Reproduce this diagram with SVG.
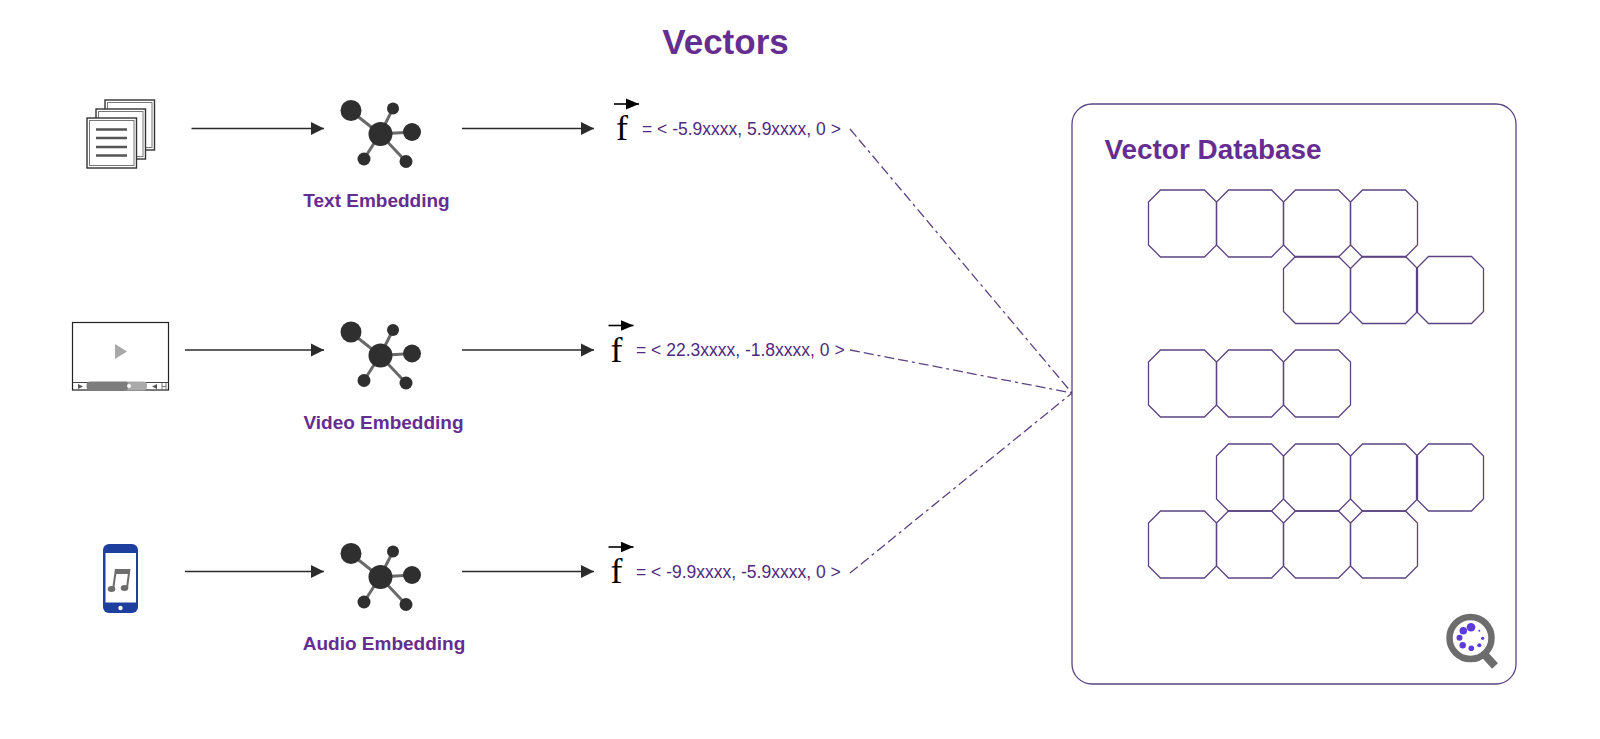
<svg xmlns="http://www.w3.org/2000/svg" width="1600" height="739" viewBox="0 0 1600 739">
<style>
text{font-family:"Liberation Sans",Arial,sans-serif}
.title{font-size:35px;font-weight:700;fill:#662d91;text-anchor:middle}
.db{font-size:27.9px;font-weight:700;fill:#662d91}
.lab{font-size:19px;font-weight:700;fill:#662d91;text-anchor:middle}
.vec{font-size:17.5px;fill:#4f2a80}
.f{font-family:"Liberation Serif",serif;font-size:36px;fill:#000}
.ln{stroke:#2b2b2b;stroke-width:1.6;fill:none}
.dash{stroke:#5b4382;stroke-width:1.3;fill:none;stroke-dasharray:10 4 10 4 3 4}
.oct{fill:none;stroke:#5b4382;stroke-width:1.3}
.hub{fill:#2f2f2f}
.sp{stroke:#6a6a6a;stroke-width:3}
</style>
<defs>
<marker id="ah" markerUnits="userSpaceOnUse" markerWidth="14" markerHeight="14" refX="13" refY="7" orient="auto"><path d="M0,0.5 L13,7 L0,13.5 Z" fill="#2b2b2b"/></marker>
<marker id="fa" markerUnits="userSpaceOnUse" markerWidth="14" markerHeight="12" refX="13" refY="6" orient="auto"><path d="M0,0.500 L13,6 L0,11.500 Z" fill="#000"/></marker>
<path id="o" class="oct" d="M12,0 H55 L67,12 V55 L55,67 H12 L0,55 V12 Z"/>
<path id="o1" class="oct" d="M12,0 H56 L68,12 V55 L56,67 H12 L0,55 V12 Z"/>
<g id="net">
<path class="sp" d="M380,134 L351,111 M380,134 L393,108.500 M380,134 L412,132 M380,134 L364,159 M380,134 L406,161.500"/>
<circle class="hub" cx="380.500" cy="134" r="12"/>
<circle class="hub" cx="351" cy="110.500" r="10.500"/>
<circle class="hub" cx="393" cy="108.500" r="6"/>
<circle class="hub" cx="412" cy="132" r="9"/>
<circle class="hub" cx="364" cy="159" r="6.500"/>
<circle class="hub" cx="406" cy="161.500" r="6.500"/>
</g>
<g id="fv">
<path d="M614,104 H639" stroke="#000" stroke-width="1.600" fill="none" marker-end="url(#fa)"/>
<text class="f" x="616" y="140">f</text>
</g>
</defs>
<rect width="1600" height="739" fill="#fff"/>
<text class="title" x="725.500" y="54">Vectors</text>

<g id="connectors">
<path class="ln" d="M191.500,128.500 H324" marker-end="url(#ah)"/>
<path class="ln" d="M462,128.500 H594" marker-end="url(#ah)"/>
<path class="ln" d="M185,350 H324" marker-end="url(#ah)"/>
<path class="ln" d="M462,350 H594" marker-end="url(#ah)"/>
<path class="ln" d="M185,571.500 H324" marker-end="url(#ah)"/>
<path class="ln" d="M462,571.500 H594" marker-end="url(#ah)"/>
<path class="dash" d="M850,129 L1072,393"/>
<path class="dash" d="M850,350 L1072,393"/>
<path class="dash" d="M850,573 L1072,393"/>
</g>

<g id="text-source">
<rect x="105" y="100" width="49.500" height="50" fill="#fff" stroke="#333" stroke-width="1.400"/>
<rect x="107.500" y="102.500" width="44.500" height="45" fill="#fff" stroke="#777" stroke-width="1"/>
<rect x="96" y="109" width="49.500" height="50" fill="#fff" stroke="#333" stroke-width="1.400"/>
<rect x="98.500" y="111.500" width="44.500" height="45" fill="#fff" stroke="#777" stroke-width="1"/>
<rect x="87" y="118" width="49.500" height="50" fill="#fff" stroke="#333" stroke-width="1.400"/>
<rect x="89.500" y="120.500" width="44.500" height="45" fill="#fff" stroke="#777" stroke-width="1"/>
<path d="M96,129.500 H127 M96,138 H127 M96,147 H127 M96,155.500 H127" stroke="#555" stroke-width="2.400"/>
</g>

<g id="video-source">
<rect x="72.500" y="322.500" width="96" height="67.500" fill="#fff" stroke="#222" stroke-width="1.200"/>
<path d="M72.500,382.500 H168.500" stroke="#444" stroke-width="1"/>
<rect x="122" y="381.500" width="25" height="9" rx="4" fill="#aaa"/>
<rect x="86.500" y="381.500" width="42" height="9" rx="4" fill="#7d7d7d"/>
<circle cx="129" cy="386" r="2" fill="#fff"/>
<path d="M115,344 L127,351.500 L115,359 Z" fill="#a8a8a8"/>
<path d="M78,384 L83,386.500 L78,389 Z M152,386.500 L157,384 V389 Z" fill="#555"/>
<path d="M162,383 V390 M166,383 V390 M162,386.500 H166" stroke="#777" stroke-width="1"/>
</g>

<g id="audio-source">
<rect x="103" y="544" width="35" height="69" rx="6" fill="#1f3f9e"/>
<rect x="105.500" y="553" width="30.500" height="49.500" fill="#fff"/>
<circle cx="120.500" cy="608" r="2.200" fill="#fff"/>
<path d="M116,569 L113,590 M129.500,569 L127,588" stroke="#6d6d6d" stroke-width="2" fill="none"/>
<path d="M115.500,569 H130 V574 H115 Z" fill="#6d6d6d"/>
<ellipse cx="111.500" cy="589" rx="3.800" ry="3" fill="#6d6d6d"/>
<ellipse cx="124.500" cy="588" rx="3.800" ry="3" fill="#6d6d6d"/>
</g>

<g id="text-embedding"><use href="#net"/><text class="lab" x="376.500" y="207">Text Embedding</text></g>
<g id="video-embedding"><use href="#net" y="221.500"/><text class="lab" x="383.500" y="428.500">Video Embedding</text></g>
<g id="audio-embedding"><use href="#net" y="443"/><text class="lab" x="384" y="650">Audio Embedding</text></g>

<g id="text-vector"><use href="#fv"/><text class="vec" x="642" y="134.500">= &lt; -5.9xxxx, 5.9xxxx, 0 &gt;</text></g>
<g id="video-vector"><use href="#fv" x="-5.500" y="221.500"/><text class="vec" x="636" y="355.500">= &lt; 22.3xxxx, -1.8xxxx, 0 &gt;</text></g>
<g id="audio-vector"><use href="#fv" x="-5.500" y="443"/><text class="vec" x="636" y="578">= &lt; -9.9xxxx, -5.9xxxx, 0 &gt;</text></g>

<g id="vector-database">
<rect x="1072" y="104" width="444" height="580" rx="20" fill="#fff" stroke="#5b4382" stroke-width="1.300"/>
<text class="db" x="1104.500" y="159">Vector Database</text>
<use href="#o1" x="1148.500" y="190"/><use href="#o" x="1216.500" y="190"/><use href="#o" x="1283.500" y="190"/><use href="#o" x="1350.500" y="190"/>
<use href="#o" x="1283.500" y="256.500"/><use href="#o" x="1350.500" y="256.500"/><use href="#o" x="1416.500" y="256.500"/>
<use href="#o1" x="1148.500" y="350"/><use href="#o" x="1216.500" y="350"/><use href="#o" x="1283.500" y="350"/>
<use href="#o" x="1216.500" y="444"/><use href="#o" x="1283.500" y="444"/><use href="#o" x="1350.500" y="444"/><use href="#o" x="1416.500" y="444"/>
<use href="#o1" x="1148.500" y="511"/><use href="#o" x="1216.500" y="511"/><use href="#o" x="1283.500" y="511"/><use href="#o" x="1350.500" y="511"/>
</g>

<g id="search-icon">
<path d="M1485,655 L1495,666" stroke="#6d6d6d" stroke-width="8"/>
<circle cx="1470.500" cy="638" r="21" fill="#fff" stroke="#6d6d6d" stroke-width="6.500"/>
<g fill="#5b3bdc">
<circle cx="1471" cy="627.300" r="4.300"/><circle cx="1463.300" cy="630.700" r="3.800"/><circle cx="1459.500" cy="637.700" r="3"/><circle cx="1462.700" cy="645.300" r="3.200"/><circle cx="1471.300" cy="648.300" r="2.800"/><circle cx="1479.300" cy="645.300" r="2"/><circle cx="1482.700" cy="638.300" r="1.600"/><circle cx="1479.300" cy="630.700" r="1"/>
</g>
</g>
</svg>
